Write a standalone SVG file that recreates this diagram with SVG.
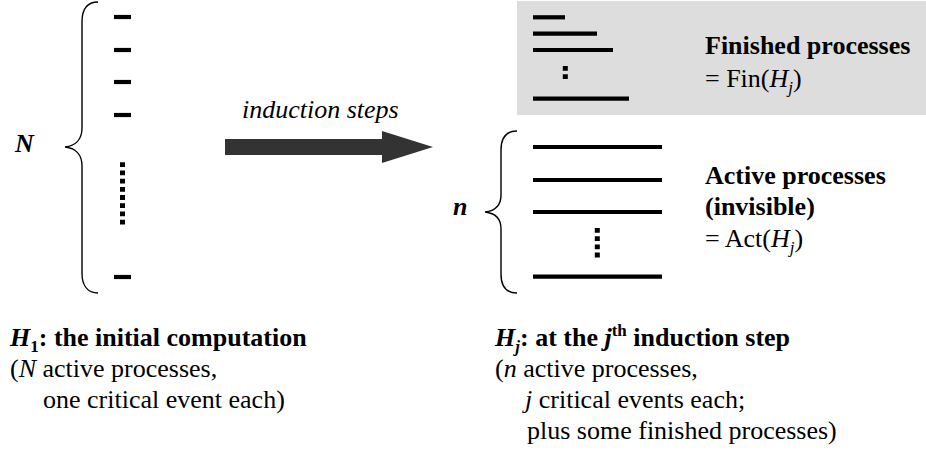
<svg xmlns="http://www.w3.org/2000/svg" width="926" height="454" viewBox="0 0 926 454" font-family="'Liberation Serif', 'Times New Roman', 'DejaVu Serif', serif">
  <style>
    text { font-family: "Liberation Serif", "Times New Roman", "DejaVu Serif", serif; font-size: 26px; fill: #000; }
    .b { font-weight: bold; }
    .i { font-style: italic; }
    .brace { fill: none; stroke: #000; stroke-width: 1.4; }
    .proc { stroke: #000; stroke-width: 4.2; }
    .dots { stroke: #000; stroke-width: 5; stroke-dasharray: 4.8 3.4; }
    .sub { font-size: 17px; }
  </style>

  <!-- H1: initial computation, N processes with one event each -->
  <g id="initial">
    <path class="brace" d="M98,2 C88,2 82,8 82,22 L82,128 C82,140 75,146 65,147 C75,148 82,154 82,166 L82,273 C82,286 88,293 98,293"/>
    <line class="proc" x1="114" y1="17" x2="131" y2="17"/>
    <line class="proc" x1="114" y1="50" x2="131" y2="50"/>
    <line class="proc" x1="114" y1="82" x2="131" y2="82"/>
    <line class="proc" x1="114" y1="115" x2="131" y2="115"/>
    <line class="dots" x1="122.5" y1="162.3" x2="122.5" y2="226"/>
    <line class="proc" x1="114" y1="277" x2="131" y2="277"/>
    <text class="b i" x="15" y="152">N</text>
  </g>

  <!-- finished processes, shaded -->
  <g id="finished">
    <rect x="517" y="1" width="409" height="114" fill="#dddddd"/>
    <line class="proc" x1="533" y1="17.3" x2="565" y2="17.3"/>
    <line class="proc" x1="533" y1="33.7" x2="597" y2="33.7"/>
    <line class="proc" x1="533" y1="50" x2="613" y2="50"/>
    <line class="dots" x1="565.3" y1="66" x2="565.3" y2="79"/>
    <line class="proc" x1="533" y1="98.7" x2="629" y2="98.7"/>
    <text class="b" x="705" y="54">Finished processes</text>
    <text x="705" y="87">= Fin(<tspan class="i">H</tspan><tspan class="i sub" dy="6">j</tspan><tspan dy="-6">)</tspan></text>
  </g>

  <!-- active processes, n of them -->
  <g id="active">
    <path class="brace" d="M517,131 C507,131 501,137 501,150 L501,195 C501,206 494,211 485,212 C494,213 501,218 501,229 L501,274 C501,287 507,293 517,293"/>
    <line class="proc" x1="533" y1="147" x2="662" y2="147"/>
    <line class="proc" x1="533" y1="180" x2="662" y2="180"/>
    <line class="proc" x1="533" y1="212" x2="662" y2="212"/>
    <line class="dots" x1="597.3" y1="228" x2="597.3" y2="258"/>
    <line class="proc" x1="533" y1="276.7" x2="662" y2="276.7"/>
    <text class="b i" x="453" y="215">n</text>
    <text class="b" x="705" y="184">Active processes</text>
    <text class="b" x="705" y="215">(invisible)</text>
    <text x="705" y="247">= Act(<tspan class="i">H</tspan><tspan class="i sub" dy="6">j</tspan><tspan dy="-6">)</tspan></text>
  </g>

  <!-- captions -->
  <g id="caption-initial">
    <text class="b" x="10" y="346"><tspan class="i">H</tspan><tspan class="sub" dy="6">1</tspan><tspan dy="-6">: the initial computation</tspan></text>
    <text x="10" y="377">(<tspan class="i">N</tspan> active processes,</text>
    <text x="43" y="408">one critical event each)</text>
  </g>

  <g id="caption-step">
    <text class="b" x="495" y="346"><tspan class="i">H</tspan><tspan class="i sub" dy="6">j</tspan><tspan dy="-6">: at the </tspan><tspan class="i">j</tspan><tspan class="sub" dy="-10">th</tspan><tspan dy="10"> induction step</tspan></text>
    <text x="495" y="377">(<tspan class="i">n</tspan> active processes,</text>
    <text x="525" y="408"><tspan class="i">j</tspan> critical events each;</text>
    <text x="527" y="439">plus some finished processes)</text>
  </g>

  <!-- connector: induction steps -->
  <g id="connectors">
    <polygon points="225,139 382,139 382,131 433,147 382,163 382,155 225,155" fill="#333333"/>
    <text class="i" x="242" y="118">induction steps</text>
  </g>
</svg>
